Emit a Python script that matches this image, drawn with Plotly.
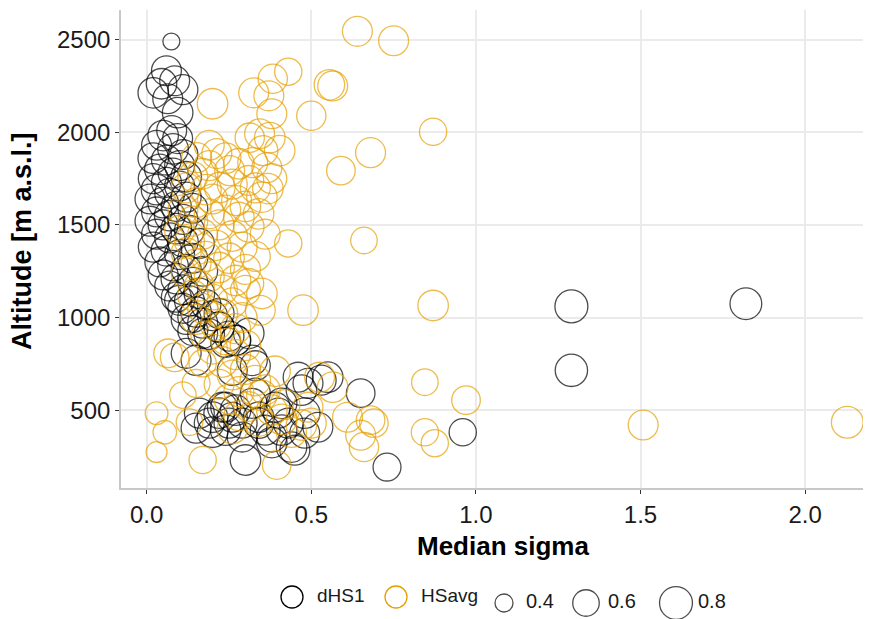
import math
import plotly.graph_objects as go

# ---------------- data ----------------
dhs1_sigma = [0.075, 0.06, 0.045, 0.085, 0.02, 0.064, 0.094, 0.076, 0.05, 0.094, 0.11,
              0.03, 0.08, 0.11, 0.02, 0.06, 0.10, 0.04, 0.08, 0.12, 0.02, 0.06, 0.10, 0.03,
              0.07, 0.12, 0.01, 0.05, 0.09, 0.14, 0.03, 0.07, 0.11, 0.01, 0.05, 0.09, 0.13,
              0.03, 0.07, 0.11, 0.16, 0.02, 0.06, 0.10, 0.14, 0.04, 0.08, 0.12, 0.17, 0.05,
              0.09, 0.14, 0.07, 0.11, 0.16, 0.09, 0.13, 0.18, 0.11, 0.15, 0.20, 0.12, 0.17,
              0.22, 0.14, 0.19, 0.25, 0.10, 0.14, 0.17, 0.22, 0.24, 0.22, 0.27, 0.12, 0.15,
              0.31, 0.32, 0.26, 0.33, 0.27,
              0.19, 0.22, 0.24, 0.27, 0.25, 0.29, 0.20, 0.32, 0.34, 0.36, 0.40, 0.41, 0.43,
              0.47, 0.49, 0.53, 0.55, 0.65, 0.52, 0.44, 0.38, 0.30, 0.73, 0.96, 0.15, 0.16,
              0.20, 0.23, 0.26, 0.24, 0.29, 0.34, 0.39, 0.41, 0.45, 0.48, 0.48, 0.33, 0.38,
              0.46, 1.29, 1.29, 1.82]
dhs1_alt = [2490, 2332, 2262, 2278, 2213, 2181, 2106, 2009, 1982, 1966, 2230,
            1930, 1910, 1880, 1860, 1850, 1820, 1800, 1780, 1760, 1750, 1730, 1710, 1690,
            1670, 1650, 1640, 1620, 1600, 1590, 1570, 1550, 1530, 1520, 1500, 1480, 1470,
            1450, 1430, 1410, 1400, 1380, 1360, 1340, 1320, 1300, 1280, 1260, 1250, 1230,
            1210, 1190, 1170, 1150, 1130, 1110, 1090, 1070, 1050, 1030, 1010, 990, 970,
            950, 930, 910, 900, 1093, 1001, 915, 947, 866, 1022, 877, 807, 769,
            915, 769, 715, 740, 877,
            430, 484, 516, 500, 430, 430, 381, 537, 462, 392, 484, 537, 430,
            608, 645, 662, 678, 592, 408, 301, 355, 231, 193, 381, 403, 484,
            462, 516, 462, 392, 355, 430, 516, 392, 284, 376, 484, 592, 325,
            678, 1060, 715, 1075]
dhs1_r = [0.38, 0.70, 0.72, 0.70, 0.72, 0.70, 0.72, 0.70, 0.72, 0.70, 0.70,
          0.70, 0.72, 0.70, 0.72, 0.70, 0.70, 0.72, 0.70, 0.72, 0.70, 0.70, 0.70, 0.72,
          0.70, 0.70, 0.70, 0.72, 0.70, 0.70, 0.70, 0.72, 0.70, 0.70, 0.70, 0.72, 0.70,
          0.70, 0.70, 0.72, 0.70, 0.70, 0.72, 0.70, 0.70, 0.70, 0.72, 0.70, 0.70, 0.70,
          0.72, 0.70, 0.70, 0.70, 0.72, 0.70, 0.70, 0.70, 0.70, 0.72, 0.70, 0.70, 0.70,
          0.70, 0.70, 0.72, 0.70, 0.70, 0.70, 0.70, 0.72, 0.70, 0.70, 0.72, 0.70, 0.70,
          0.72, 0.72, 0.70, 0.70, 0.70,
          0.70, 0.72, 0.70, 0.72, 0.70, 0.70, 0.72, 0.70, 0.72, 0.70, 0.70, 0.72, 0.70,
          0.72, 0.70, 0.70, 0.72, 0.66, 0.70, 0.72, 0.70, 0.72, 0.64, 0.62, 0.70, 0.70,
          0.72, 0.70, 0.70, 0.72, 0.70, 0.72, 0.70, 0.72, 0.70, 0.70, 0.72, 0.70, 0.72,
          0.70, 0.80, 0.78, 0.76]

hsavg_sigma = [0.64, 0.75, 0.555, 0.565, 0.50, 0.87, 0.68, 0.59, 0.20, 0.43, 0.383, 0.325,
               0.371, 0.38, 0.313, 0.343, 0.374, 0.353, 0.404, 0.322, 0.365, 0.368, 0.43,
               0.66, 0.475, 0.87, 0.845, 0.97, 0.845, 0.875, 0.395, 0.17, 0.31, 0.35, 0.345,
               0.30, 0.525, 0.565, 0.61, 0.65, 0.66, 0.68, 0.69, 0.49, 0.50, 1.508, 2.128,
               0.03, 0.055, 0.03, 0.13, 0.11, 0.15, 0.17, 0.085, 0.065,
               0.213, 0.152, 0.17, 0.252, 0.222, 0.273, 0.19, 0.28, 0.31, 0.33, 0.24, 0.14,
               0.12, 0.18, 0.26, 0.20, 0.30, 0.15, 0.24, 0.34, 0.11, 0.19, 0.28, 0.14, 0.22,
               0.31, 0.10, 0.17, 0.26, 0.36, 0.13, 0.21, 0.29, 0.12, 0.18, 0.25, 0.33, 0.15,
               0.22, 0.30, 0.12, 0.19, 0.27, 0.16, 0.23, 0.14, 0.20, 0.26, 0.17, 0.23, 0.29,
               0.15, 0.21, 0.27, 0.18, 0.24, 0.30, 0.20, 0.27, 0.23, 0.30, 0.26, 0.33, 0.22,
               0.28, 0.35, 0.25, 0.31, 0.38, 0.28, 0.34, 0.41, 0.26, 0.44, 0.47, 0.42, 0.36,
               0.39, 0.19, 0.38, 0.35]
hsavg_alt = [2545, 2494, 2256, 2250, 2089, 2003, 1890, 1793, 2154, 2327, 2289, 2213,
             2197, 2100, 1971, 1992, 1971, 1901, 1901, 1836, 1809, 1696, 1400,
             1416, 1040, 1065, 651, 554, 381, 322, 204, 231, 1184, 1130, 1039,
             1147, 678, 624, 462, 365, 301, 446, 430, 516, 430, 420, 435,
             484, 381, 274, 435, 581, 645, 753, 785, 807,
             1885, 1863, 1777, 1793, 1702, 1631, 1820, 1830, 1740, 1700, 1860, 1760,
             1700, 1690, 1720, 1640, 1600, 1620, 1580, 1560, 1580, 1560, 1540, 1520, 1500,
             1490, 1470, 1450, 1440, 1450, 1410, 1390, 1380, 1350, 1330, 1320, 1330, 1290,
             1270, 1260, 1240, 1220, 1200, 1170, 1150, 1120, 1100, 1080, 1050, 1020, 1000,
             990, 960, 940, 900, 880, 850, 830, 800, 760, 720, 690, 660, 640,
             600, 580, 560, 520, 500, 470, 440, 450, 400, 380, 420, 530, 610,
             710, 1930, 1750, 1650]
hsavg_r = [0.70, 0.70, 0.72, 0.70, 0.68, 0.62, 0.70, 0.66, 0.72, 0.62, 0.68, 0.70,
           0.70, 0.70, 0.68, 0.70, 0.72, 0.70, 0.72, 0.70, 0.70, 0.72, 0.62,
           0.60, 0.72, 0.72, 0.60, 0.66, 0.62, 0.62, 0.66, 0.62, 0.70, 0.72, 0.70,
           0.70, 0.70, 0.72, 0.70, 0.70, 0.68, 0.66, 0.66, 0.70, 0.70, 0.70, 0.76,
           0.50, 0.52, 0.46, 0.60, 0.60, 0.64, 0.62, 0.66, 0.66,
           0.70, 0.70, 0.72, 0.70, 0.72, 0.70, 0.70, 0.72, 0.70, 0.70, 0.72, 0.70,
           0.70, 0.72, 0.70, 0.70, 0.72, 0.70, 0.70, 0.72, 0.70, 0.70, 0.72, 0.70, 0.70,
           0.72, 0.70, 0.70, 0.72, 0.70, 0.70, 0.72, 0.70, 0.70, 0.70, 0.72, 0.70, 0.70,
           0.72, 0.70, 0.70, 0.70, 0.72, 0.70, 0.70, 0.72, 0.70, 0.70, 0.70, 0.72, 0.70,
           0.70, 0.72, 0.70, 0.70, 0.70, 0.72, 0.70, 0.70, 0.72, 0.70, 0.70, 0.72, 0.70,
           0.70, 0.72, 0.70, 0.70, 0.72, 0.70, 0.70, 0.72, 0.70, 0.70, 0.72, 0.70, 0.70,
           0.72, 0.70, 0.70, 0.72]

series_names = ["dHS1", "HSavg"]
series_colors = ["#000000", "#E69F00"]
size_breaks = [0.4, 0.6, 0.8]
size_labels = ["0.4", "0.6", "0.8"]
x_ticks = [0.0, 0.5, 1.0, 1.5, 2.0]
x_ticklabels = ["0.0", "0.5", "1.0", "1.5", "2.0"]
y_ticks = [500, 1000, 1500, 2000, 2500]
y_ticklabels = ["500", "1000", "1500", "2000", "2500"]
x_title = "Median sigma"
y_title = "Altitude [m a.s.l.]"


def diam(v):
    # area-type size scale (px diameter)
    return math.sqrt(max(324 + (v - 0.4) * 1900, 120))


FONT = "Liberation Sans, Arial, sans-serif"
PAGE_OFF = 8                     # default body margin of the html page
W, H = 871 - PAGE_OFF, 619 - PAGE_OFF
# layout in page pixels
PANEL_L, PANEL_R, PANEL_T, PANEL_B = 121, 870, 10, 488
ML = PANEL_L - PAGE_OFF
MR = W - (PANEL_R - PAGE_OFF)
MT = PANEL_T - PAGE_OFF
MB = 0
plot_w = W - ML - MR
plot_h = H - MT - MB
y_dom0 = (H - MB - (PANEL_B - PAGE_OFF)) / plot_h
leg_dom1 = 0.12


def px_to_paper_x(px):
    return (px - PAGE_OFF - ML) / plot_w


def px_to_paper_y(py):
    return (H - MB - (py - PAGE_OFF)) / plot_h


fig = go.Figure()

for name, col, xs, ys, rs in [
    (series_names[0], series_colors[0], dhs1_sigma, dhs1_alt, dhs1_r),
    (series_names[1], series_colors[1], hsavg_sigma, hsavg_alt, hsavg_r),
]:
    fig.add_trace(go.Scatter(
        x=xs, y=ys, mode="markers", name=name, showlegend=False,
        marker=dict(symbol="circle-open", size=[diam(r) for r in rs],
                    color=col, line=dict(width=1.3, color=col)),
        hoverinfo="x+y",
    ))

# ---- custom legend drawn on a hidden axis measured in page pixels ----
leg_color_x = [292, 396]
leg_color_y = 597
leg_size_x = [504, 586, 676]
leg_size_y = 603

fig.add_trace(go.Scatter(
    x=leg_color_x, y=[leg_color_y] * 2, xaxis="x2", yaxis="y2", mode="markers",
    showlegend=False, hoverinfo="skip",
    marker=dict(symbol="circle-open", size=22, color=series_colors,
                line=dict(width=1.3, color=series_colors)),
))
fig.add_trace(go.Scatter(
    x=[v + 25 for v in leg_color_x], y=[leg_color_y] * 2, xaxis="x2", yaxis="y2",
    mode="text", text=series_names, textposition="middle right", showlegend=False,
    hoverinfo="skip", textfont=dict(family=FONT, size=19, color="#1a1a1a"),
))
fig.add_trace(go.Scatter(
    x=leg_size_x, y=[leg_size_y] * 3, xaxis="x2", yaxis="y2", mode="markers",
    showlegend=False, hoverinfo="skip",
    marker=dict(symbol="circle-open", size=[diam(v) for v in size_breaks], color="#000000",
                line=dict(width=1.3, color="#000000")),
))
fig.add_trace(go.Scatter(
    x=[v + 22 for v in leg_size_x], y=[leg_size_y] * 3, xaxis="x2", yaxis="y2",
    mode="text", text=size_labels, textposition="middle right", showlegend=False,
    hoverinfo="skip", textfont=dict(family=FONT, size=20, color="#1a1a1a"),
))

axis_common = dict(
    showgrid=True, gridcolor="#EBEBEB", gridwidth=1.6, zeroline=False,
    showline=True, linecolor="#C8C8C8", linewidth=1.6,
    ticks="outside", ticklen=4, tickwidth=1.1, tickcolor="#333333",
    tickfont=dict(family=FONT, size=24, color="#1a1a1a"),
    automargin=False,
)

fig.update_layout(
    width=W, height=H,
    margin=dict(l=ML, r=MR, t=MT, b=MB, autoexpand=False),
    paper_bgcolor="white", plot_bgcolor="white",
    showlegend=False,
    xaxis=dict(range=[-0.078, 2.197], tickvals=x_ticks, ticktext=x_ticklabels,
               anchor="y", **axis_common),
    yaxis=dict(range=[80, 2660], tickvals=y_ticks, ticktext=y_ticklabels,
               domain=[y_dom0, 1], anchor="x", **axis_common),
    xaxis2=dict(range=[PANEL_L, PANEL_R], domain=[0, 1], anchor="y2", visible=False,
                fixedrange=True),
    yaxis2=dict(range=[619 - MB, 619 - MB - leg_dom1 * plot_h], domain=[0, leg_dom1],
                anchor="x2", visible=False, fixedrange=True),
    annotations=[
        dict(text="<b>%s</b>" % x_title, xref="paper", yref="paper",
             x=px_to_paper_x(503), y=px_to_paper_y(546), xanchor="center", yanchor="middle",
             showarrow=False, font=dict(family=FONT, size=26, color="#000000")),
        dict(text="<b>%s</b>" % y_title, xref="paper", yref="paper", textangle=-90,
             x=px_to_paper_x(22), y=px_to_paper_y(241), xanchor="center", yanchor="middle",
             showarrow=False, font=dict(family=FONT, size=27, color="#000000")),
    ],
)

fig.write_html("out.html")
